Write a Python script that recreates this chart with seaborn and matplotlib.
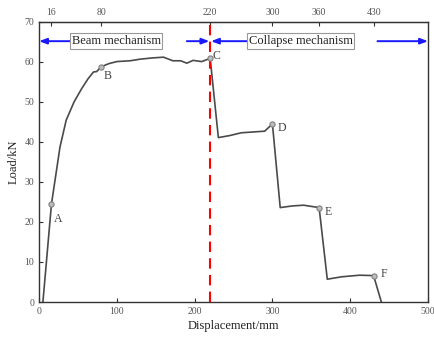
import matplotlib
matplotlib.use("Agg")
import matplotlib.pyplot as plt
import seaborn as sns
import pandas as pd

# Load-displacement curve
disp = [5, 16, 27, 35, 45, 55, 63, 70, 74, 80, 90, 100, 117, 130, 145, 160, 172, 182, 190, 198, 209, 220,
        230.5, 245, 260, 275, 290, 300,
        310, 325, 340, 360,
        370.5, 389, 412, 430,
        440]
load = [0, 24.5, 38.8, 45.5, 50.0, 53.4, 55.8, 57.5, 57.6, 58.8, 59.6, 60.1, 60.3, 60.7, 61.0, 61.2, 60.3, 60.3, 59.7, 60.4, 60.1, 60.9,
        41.1, 41.6, 42.3, 42.5, 42.7, 44.5,
        23.6, 24.0, 24.2, 23.6,
        5.7, 6.3, 6.7, 6.6,
        0]

key_labels = ["A", "B", "C", "D", "E", "F"]
key_x = [16, 80, 220, 300, 360, 430]
key_y = [24.5, 58.8, 60.9, 44.5, 23.6, 6.6]

top_ticks = [16, 80, 220, 300, 360, 430]
bottom_ticks = [0, 100, 200, 300, 400, 500]
y_ticks = [0, 10, 20, 30, 40, 50, 60, 70]

sns.set_style("ticks")
plt.rcParams['font.family'] = ['Liberation Serif', 'DejaVu Serif']

fig = plt.figure(figsize=(4.35, 3.38), dpi=100)
ax = fig.add_axes([0.0897, 0.1065, 0.8943, 0.8285])

df = pd.DataFrame({"disp": disp, "load": load})
sns.lineplot(data=df, x="disp", y="load", sort=False, color="#4a4a4a", linewidth=1.2, ax=ax)

kdf = pd.DataFrame({"x": key_x, "y": key_y})
sns.scatterplot(data=kdf, x="x", y="y", ax=ax, s=14, color="#bdbdbd", edgecolor="#808080",
                linewidth=0.8, zorder=5)

offsets = {"A": (2, -11), "B": (2, -7), "C": (2, 2), "D": (4, -3), "E": (4, -3), "F": (5, 1)}
for lab, x, y in zip(key_labels, key_x, key_y):
    dx, dy = offsets[lab]
    ax.annotate(lab, (x, y), xytext=(dx, dy), textcoords="offset points",
                fontsize=8.5, color="#444444", ha="left", va="center")

ax.set_xlim(0, 500)
ax.set_ylim(0, 70)
ax.set_xticks(bottom_ticks)
ax.set_yticks(y_ticks)
ax.tick_params(direction="in", labelsize=7, length=3, colors="#333333", labelcolor="#555555")
ax.set_xlabel("Displacement/mm", fontsize=9, color="#222222", labelpad=3)
ax.set_ylabel("Load/kN", fontsize=9, color="#222222", labelpad=3)
for sp in ax.spines.values():
    sp.set_visible(True)
    sp.set_color("#333333")
    sp.set_linewidth(1.0)

top = ax.secondary_xaxis("top")
top.set_xticks(top_ticks)
top.tick_params(direction="in", labelsize=7, length=3, labelcolor="#555555", colors="#333333")

# red dashed line at 220
ax.plot([220, 220], [0, 70.6], color="red", linestyle=(0, (5, 3)), linewidth=1.5, clip_on=False, zorder=4)

# mechanism arrows
arrow_kw = dict(arrowstyle="-|>,head_length=0.45,head_width=0.17", color="#1a1aff", lw=1.4,
                shrinkA=0, shrinkB=0)
ay = 65.2
ax.annotate("", xy=(0, ay), xytext=(40, ay), arrowprops=arrow_kw, zorder=3)
ax.annotate("", xy=(219, ay), xytext=(190, ay), arrowprops=arrow_kw, zorder=3)
ax.annotate("", xy=(221, ay), xytext=(272, ay), arrowprops=arrow_kw, zorder=3)
ax.annotate("", xy=(500, ay), xytext=(435, ay), arrowprops=arrow_kw, zorder=3, annotation_clip=False)

box = dict(boxstyle="square,pad=0.15", facecolor="white", edgecolor="#999999", linewidth=0.8)
ax.text(99, ay, "Beam mechanism", fontsize=9, ha="center", va="center", bbox=box, color="#222222", zorder=6)
ax.text(336, ay, "Collapse mechanism", fontsize=9, ha="center", va="center", bbox=box, color="#222222", zorder=6)

fig.savefig("out.png", dpi=100)
